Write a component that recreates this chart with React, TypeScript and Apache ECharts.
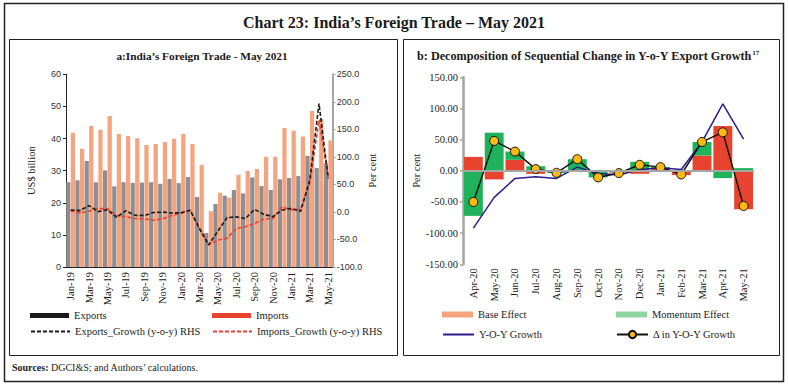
import React, { useEffect, useRef } from 'react';
import * as echarts from 'echarts';

const monthsA = ['Jan-19','Feb-19','Mar-19','Apr-19','May-19','Jun-19','Jul-19','Aug-19','Sep-19','Oct-19','Nov-19','Dec-19','Jan-20','Feb-20','Mar-20','Apr-20','May-20','Jun-20','Jul-20','Aug-20','Sep-20','Oct-20','Nov-20','Dec-20','Jan-21','Feb-21','Mar-21','Apr-21','May-21'];
const exportsVal = [26.4,27.0,33.0,26.4,30.1,25.1,26.4,26.2,26.3,26.4,25.9,27.4,26.1,28.0,21.8,10.6,19.6,22.2,24.0,22.9,27.9,25.2,24.0,27.3,27.7,28.3,34.6,30.8,32.3];
const importsVal = [41.8,36.8,43.9,42.7,47.0,41.4,40.8,40.1,38.0,38.3,38.9,39.9,41.4,38.3,31.8,17.4,23.1,21.6,28.7,29.9,30.5,34.3,34.3,43.3,42.4,40.6,48.6,46.1,39.4];
const exportsGrowth = [3.6,2.4,11.5,0.6,3.9,-9.7,2.2,-6.0,-6.6,-1.1,-0.3,-1.8,-1.7,3.0,-30.0,-60.0,-35.0,-10.4,-9.0,-12.0,4.7,-4.4,-8.6,3.5,6.5,1.0,58.0,197.0,61.0];
const importsGrowth = [2.4,-2.0,1.4,6.0,6.0,-6.6,-8.5,-12.0,-12.5,-15.0,-12.5,-6.6,-2.0,3.0,-28.7,-59.0,-51.0,-48.0,-30.0,-27.0,-21.0,-13.0,-12.0,9.5,3.5,5.0,52.0,167.0,64.0];

const monthsB = ['Apr-20','May-20','Jun-20','Jul-20','Aug-20','Sep-20','Oct-20','Nov-20','Dec-20','Jan-21','Feb-21','Mar-21','Apr-21','May-21'];
const baseEffect = [22.3,-13.8,17.6,-4.8,0.3,0.5,-0.6,-3.0,-4.8,4.5,-6.9,24.5,71.8,-61.7];
const momentumEffect = [-72.3,61.2,13.3,7.4,-3.5,18.1,-10.0,-0.7,14.4,1.4,1.0,21.8,-11.7,4.3];
const yoyGrowth = [-92.0,-42.6,-12.2,-9.6,-12.2,5.9,-4.3,-6.9,2.1,4.8,2.1,46.3,107.4,51.0];
const deltaGrowth = [-50.0,47.9,30.9,2.7,-3.2,18.6,-10.6,-3.7,9.6,5.9,-5.9,46.3,61.7,-56.4];

const SERIF = '"Liberation Serif", "DejaVu Serif", serif';
const SANS = '"Liberation Sans", Arial, sans-serif';
const TXT = '#222';
const HIDE_SYMBOL = { color: 'rgba(0,0,0,0)', borderColor: 'rgba(0,0,0,0)', borderWidth: 0 };

export default function App() {
  const ref = useRef<HTMLDivElement>(null);
  useEffect(() => {
    if (!ref.current) return;
    const chart = echarts.init(ref.current, undefined, { renderer: 'svg' });
    const legendBase = {
      padding: 0,
      selectedMode: false,
      textStyle: { fontFamily: SERIF, fontSize: 10.5, color: TXT },
    };
    const option: any = {
      animation: false,
      backgroundColor: '#fff',
      grid: [
        { left: 66, top: 74.3, width: 266.8, height: 192.7 },
        { left: 463, top: 77.3, width: 291, height: 187 },
      ],
      xAxis: [
        {
          type: 'category', gridIndex: 0, data: monthsA,
          axisLine: { lineStyle: { color: '#222', width: 1 } },
          axisTick: { interval: 1, length: 4, lineStyle: { color: '#222' } },
          axisLabel: { interval: 1, rotate: 90, fontFamily: SERIF, fontSize: 10.5, color: TXT, margin: 5 },
        },
        {
          type: 'category', gridIndex: 1, data: monthsB,
          axisLine: { show: false, onZero: false },
          axisTick: { show: false },
          axisLabel: { interval: 0, rotate: 90, fontFamily: SERIF, fontSize: 10.5, color: TXT, margin: 4 },
        },
      ],
      yAxis: [
        {
          type: 'value', gridIndex: 0, min: 0, max: 60, interval: 10,
          axisLine: { show: true, lineStyle: { color: '#222' } },
          axisTick: { show: true, length: 3, lineStyle: { color: '#222' } },
          splitLine: { show: false },
          axisLabel: { fontFamily: SANS, fontSize: 9, color: '#333', margin: 5 },
          name: 'US$ billion', nameLocation: 'middle', nameRotate: 90, nameGap: 29,
          nameTextStyle: { fontFamily: SERIF, fontSize: 10.5, color: TXT },
        },
        {
          type: 'value', gridIndex: 0, position: 'right', min: -100, max: 250, interval: 50,
          axisLine: { show: true, lineStyle: { color: '#A6A6A6', width: 2 } },
          axisTick: { show: true, length: 3, lineStyle: { color: '#A6A6A6' } },
          splitLine: { show: false },
          axisLabel: { fontFamily: SANS, fontSize: 9, color: '#333', margin: 4, formatter: (v: number) => v.toFixed(1) },
          name: 'Per cent', nameLocation: 'middle', nameRotate: 90, nameGap: 34,
          nameTextStyle: { fontFamily: SERIF, fontSize: 10.5, color: TXT },
        },
        {
          type: 'value', gridIndex: 1, min: -150, max: 150, interval: 50,
          axisLine: { show: true, lineStyle: { color: '#A6A6A6', width: 2.5 } },
          axisTick: { show: true, length: 3, lineStyle: { color: '#A6A6A6', width: 1.5 } },
          splitLine: { show: false },
          axisLabel: { fontFamily: SERIF, fontSize: 10.5, color: TXT, margin: 5, formatter: (v: number) => v.toFixed(2) },
          name: 'Per cent', nameLocation: 'middle', nameRotate: 90, nameGap: 38,
          nameTextStyle: { fontFamily: SERIF, fontSize: 10.5, color: TXT },
        },
      ],
      legend: [
        { ...legendBase, left: 30, top: 310, icon: 'rect', itemWidth: 39, itemHeight: 5,
          data: [{ name: 'Exports', itemStyle: { color: '#1a1a1a' } }] },
        { ...legendBase, left: 212, top: 310, icon: 'rect', itemWidth: 39, itemHeight: 5,
          data: [{ name: 'Imports', itemStyle: { color: '#E8432E' } }] },
        { ...legendBase, left: 30, top: 326, itemWidth: 39, itemHeight: 10,
          data: [{ name: 'Exports_Growth (y-o-y) RHS', itemStyle: HIDE_SYMBOL }] },
        { ...legendBase, left: 212, top: 326, itemWidth: 39, itemHeight: 10,
          data: [{ name: 'Imports_Growth (y-o-y) RHS', itemStyle: HIDE_SYMBOL }] },
        { ...legendBase, left: 442, top: 309, icon: 'rect', itemWidth: 31, itemHeight: 6,
          data: [{ name: 'Base Effect', itemStyle: { color: '#F4A47F' } }] },
        { ...legendBase, left: 616, top: 309, icon: 'rect', itemWidth: 31, itemHeight: 6,
          data: [{ name: 'Momentum Effect', itemStyle: { color: '#8FD5A2' } }] },
        { ...legendBase, left: 442, top: 329, itemWidth: 31, itemHeight: 10,
          data: [{ name: 'Y-O-Y Growth', itemStyle: HIDE_SYMBOL }] },
        { ...legendBase, left: 616, top: 329, itemWidth: 31, itemHeight: 9,
          data: ['Δ in Y-O-Y Growth'] },
      ],
      series: [
        {
          name: 'Exports', type: 'bar', xAxisIndex: 0, yAxisIndex: 0, data: exportsVal,
          itemStyle: { color: '#8F8F91' }, barCategoryGap: '4%', barGap: '8%',
        },
        {
          name: 'Imports', type: 'bar', xAxisIndex: 0, yAxisIndex: 0, data: importsVal,
          itemStyle: { color: '#F4A47F' }, barCategoryGap: '4%', barGap: '8%',
        },
        {
          name: 'Imports_Growth (y-o-y) RHS', type: 'line', xAxisIndex: 0, yAxisIndex: 1, data: importsGrowth,
          symbol: 'none', itemStyle: { color: '#E8432E' },
          lineStyle: { color: '#E8432E', width: 1.6, type: [4, 2] },
        },
        {
          name: 'Exports_Growth (y-o-y) RHS', type: 'line', xAxisIndex: 0, yAxisIndex: 1, data: exportsGrowth,
          symbol: 'none', itemStyle: { color: '#1a1a1a' },
          lineStyle: { color: '#1a1a1a', width: 1.6, type: [4, 2] },
        },
        {
          name: 'Base Effect', type: 'bar', stack: 'dec', xAxisIndex: 1, yAxisIndex: 2, data: baseEffect,
          itemStyle: { color: '#E8432E' }, barCategoryGap: '9%',
          markLine: {
            silent: true, symbol: 'none', label: { show: false },
            lineStyle: { color: '#A6A6A6', width: 2, type: 'solid' },
            data: [{ yAxis: 0 }],
          },
        },
        {
          name: 'Momentum Effect', type: 'bar', stack: 'dec', xAxisIndex: 1, yAxisIndex: 2, data: momentumEffect,
          itemStyle: { color: '#1EB35A' }, barCategoryGap: '9%',
        },
        {
          name: 'Y-O-Y Growth', type: 'line', xAxisIndex: 1, yAxisIndex: 2, data: yoyGrowth,
          symbol: 'none', itemStyle: { color: '#2B1C8C' },
          lineStyle: { color: '#2B1C8C', width: 1.5 },
        },
        {
          name: 'Δ in Y-O-Y Growth', type: 'line', xAxisIndex: 1, yAxisIndex: 2, data: deltaGrowth,
          symbol: 'circle', symbolSize: 9,
          itemStyle: { color: '#FDB913', borderColor: '#111', borderWidth: 1 },
          lineStyle: { color: '#111', width: 1.5 },
        },
      ],
      graphic: [
        { type: 'rect', silent: true, shape: { x: 4.5, y: 3.5, width: 779, height: 378 },
          style: { fill: 'none', stroke: '#222', lineWidth: 1.5 } },
        { type: 'rect', silent: true, shape: { x: 9.5, y: 39.5, width: 388, height: 316 },
          style: { fill: 'none', stroke: '#222', lineWidth: 1 } },
        { type: 'rect', silent: true, shape: { x: 403.5, y: 39.5, width: 376, height: 316 },
          style: { fill: 'none', stroke: '#222', lineWidth: 1 } },
        { type: 'text', x: 394, y: 22, style: {
            text: 'Chart 23: India\u2019s Foreign Trade \u2013 May 2021', textAlign: 'center', textVerticalAlign: 'middle',
            fontFamily: SERIF, fontSize: 16, fontWeight: 'bold', fill: '#1a1a1a' } },
        { type: 'text', x: 202, y: 56, style: {
            text: 'a:India\u2019s Foreign Trade - May 2021', textAlign: 'center', textVerticalAlign: 'middle',
            fontFamily: SERIF, fontSize: 11.3, fontWeight: 'bold', fill: '#1a1a1a' } },
        { type: 'text', x: 417, y: 56, style: {
            text: '{m|b: Decomposition of Sequential Change in Y-o-Y Export Growth}{s|17}',
            textAlign: 'left', textVerticalAlign: 'middle',
            rich: {
              m: { fontFamily: SERIF, fontSize: 12.2, fontWeight: 'bold', fill: '#1a1a1a' },
              s: { fontFamily: SERIF, fontSize: 7, fontWeight: 'bold', fill: '#1a1a1a', verticalAlign: 'top', padding: [0, 0, 6, 0] },
            } } },
        { type: 'text', x: 12, y: 367, style: {
            text: '{b|Sources:} DGCI&S; and Authors\u2019 calculations.',
            textAlign: 'left', textVerticalAlign: 'middle',
            fontFamily: SERIF, fontSize: 10, fill: '#222',
            rich: { b: { fontFamily: SERIF, fontSize: 10, fontWeight: 'bold', fill: '#222' } } } },
      ],
    };
    chart.setOption(option);
    return () => chart.dispose();
  }, []);
  return <div ref={ref} style={{ position: 'absolute', left: 0, top: 0, width: 788, height: 390 }} />;
}
